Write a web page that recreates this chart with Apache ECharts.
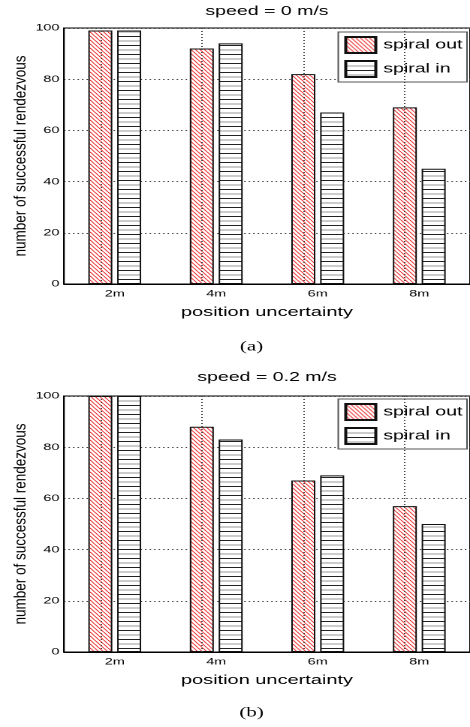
<!DOCTYPE html>
<html>
<head>
  <meta charset="utf-8">
  <title>spiral rendezvous</title>
  <script src="https://cdn.jsdelivr.net/npm/echarts@6.0.0/dist/echarts.min.js"></script>
  <style>
    html, body { margin: 0; padding: 0; background: #fff; overflow: hidden; }
    #wrap { width: 470px; height: 727px; overflow: hidden; }
    /* the original figure is stretched sideways, so draw narrow and stretch */
    #chart { width: 313px; height: 727px; transform: scaleX(1.5016); transform-origin: 0 0; }
  </style>
</head>
<body>
<div id="wrap"><div id="chart"></div></div>
<script>
  // values
  let categories = ['2m', '4m', '6m', '8m'];
  let outA = [99, 92, 82, 69];
  let inA = [99, 94, 67, 45];
  let outB = [100, 88, 67, 57];
  let inB = [100, 83, 69, 50];
  let seriesNames = ['spiral out', 'spiral in'];
  let titles = ['speed = 0 m/s', 'speed = 0.2 m/s'];
  let captions = ['(a)', '(b)'];
  let yName = 'number of successful rendezvous';

  // red diagonal hatch (tile drawn at 2x, scaled back down)
  function redHatch() {
    let c = document.createElement('canvas');
    c.width = 6; c.height = 8;
    let ctx = c.getContext('2d');
    ctx.fillStyle = '#fff';
    ctx.fillRect(0, 0, 6, 8);
    ctx.strokeStyle = 'rgb(238,60,60)';
    ctx.lineWidth = 1.6;
    for (let k = -1; k <= 1; k++) {
      ctx.beginPath();
      ctx.moveTo(k * 6, 0);
      ctx.lineTo(k * 6 + 6, 8);
      ctx.stroke();
    }
    return {image: c, repeat: 'repeat', scaleX: 0.5, scaleY: 0.5};
  }

  // horizontal black / grey stripes
  function lineHatch() {
    let c = document.createElement('canvas');
    c.width = 2; c.height = 18;
    let ctx = c.getContext('2d');
    ctx.fillStyle = '#fff';
    ctx.fillRect(0, 0, 2, 18);
    ctx.fillStyle = '#222';
    ctx.fillRect(0, 0, 2, 2);
    ctx.fillStyle = '#999';
    ctx.fillRect(0, 9, 2, 2);
    return {image: c, repeat: 'repeat', scaleX: 0.5, scaleY: 0.5};
  }

  let fontSans = '"Liberation Sans", Arial, Helvetica, sans-serif';
  let gridTops = [28, 396];
  let titleTops = [5, 371];
  let legendTops = [32, 399];
  let captionY = [347, 713];
  let plotLeft = 42.6;
  let plotH = 256;
  let midX = (plotLeft + 313) / 2;

  let myChart = echarts.init(document.getElementById('chart'), null, {renderer: 'canvas', devicePixelRatio: 2});

  let patterns = [redHatch(), lineHatch()];
  let panels = [[outA, inA], [outB, inB]];

  let grids = [], xAxes = [], yAxes = [], seriesList = [], titleList = [], legendList = [], graphics = [];

  panels.forEach(function (vals, i) {
    grids.push({
      left: plotLeft, right: -1, top: gridTops[i], height: plotH,
      show: true, borderColor: '#000', borderWidth: 1, backgroundColor: 'transparent'
    });
    xAxes.push({
      type: 'category', gridIndex: i, data: categories,
      axisLine: {lineStyle: {color: '#000', width: 1}},
      axisTick: {show: false},
      axisLabel: {color: '#000', fontSize: 9.6, fontFamily: fontSans, margin: 5},
      splitLine: {show: false},
      name: 'position uncertainty', nameLocation: 'middle', nameGap: 22,
      nameTextStyle: {color: '#000', fontSize: 13.3, fontFamily: fontSans}
    });
    yAxes.push({
      type: 'value', gridIndex: i, min: 0, max: 100, interval: 20,
      axisLine: {show: true, lineStyle: {color: '#000', width: 1}},
      axisTick: {show: false},
      axisLabel: {color: '#000', fontSize: 9.6, fontFamily: fontSans, margin: 3},
      splitLine: {show: true, lineStyle: {color: '#444', type: [1, 2], width: 1}}
    });
    titleList.push({
      text: titles[i], left: midX, top: titleTops[i], textAlign: 'center', padding: 0,
      textStyle: {fontSize: 13, fontWeight: 'normal', color: '#000', fontFamily: fontSans}
    });
    legendList.push({
      orient: 'vertical', right: 2, top: legendTops[i],
      data: seriesNames, icon: 'rect',
      itemWidth: 20, itemHeight: 16, itemGap: 6,
      padding: [4, 3, 4, 4],
      borderColor: '#555', borderWidth: 1, backgroundColor: '#fff',
      textStyle: {fontSize: 13, color: '#000', fontFamily: fontSans}
    });
    vals.forEach(function (v, j) {
      let s = {
        name: seriesNames[j], type: 'bar',
        xAxisIndex: i, yAxisIndex: i,
        data: v, barWidth: 16, barGap: '20%',
        itemStyle: {color: patterns[j], borderColor: '#111', borderWidth: 1},
        emphasis: {disabled: true},
        animation: false
      };
      if (j === 0) {
        // dotted vertical grid at the category centres
        s.markLine = {
          silent: true, symbol: ['none', 'none'], animation: false,
          label: {show: false},
          lineStyle: {color: '#444', type: [1, 2], width: 1},
          data: categories.map(function (c) { return {xAxis: c}; })
        };
      }
      seriesList.push(s);
    });
    // y axis title, squeezed across so the sideways stretch does not fatten it
    graphics.push({
      type: 'text', x: 14, y: gridTops[i] + plotH / 2,
      rotation: Math.PI / 2, scaleX: 1, scaleY: 0.8,
      style: {
        text: yName, fill: '#000',
        font: '13.5px ' + fontSans,
        textAlign: 'center', textVerticalAlign: 'middle'
      }
    });
    graphics.push({
      type: 'text', x: 167.5, y: captionY[i],
      style: {
        text: captions[i], fill: '#000',
        font: '14px "Liberation Serif", "Times New Roman", serif',
        textAlign: 'center', textVerticalAlign: 'middle'
      }
    });
  });

  let option = {
    backgroundColor: '#fff',
    animation: false,
    title: titleList,
    legend: legendList,
    grid: grids,
    xAxis: xAxes,
    yAxis: yAxes,
    series: seriesList,
    graphic: graphics
  };
  myChart.setOption(option);
</script>
</body>
</html>
